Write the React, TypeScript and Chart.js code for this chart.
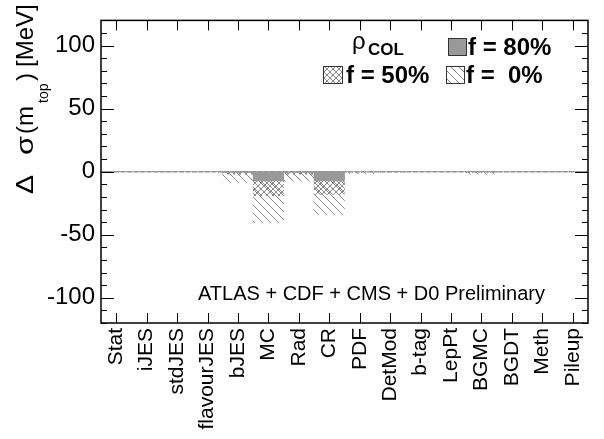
import { useEffect, useRef } from 'react';
import { Chart, registerables } from 'chart.js';

Chart.register(...registerables);

const categories = ['Stat', 'iJES', 'stdJES', 'flavourJES', 'bJES', 'MC', 'Rad', 'CR', 'PDF', 'DetMod', 'b-tag', 'LepPt', 'BGMC', 'BGDT', 'Meth', 'Pileup'];
const f80 = [0, 0, 0, 0, -0.5, -7.3, -0.5, -7.3, 0, 0, 0, 0, 0, 0, 0, 0];
const f50 = [0, 0, 0, 0, -2, -19, -2, -18, -0.3, 0, 0, 0, -0.5, 0, 0, 0];
const f0 = [0, 0, 0, 0, -8.5, -40.5, -7.5, -34, -1.5, -0.5, 0, 0, -2, 0, 0, 0];
const yMin = -120;
const yMax = 120;
const yStep = 50;
const yMinorStep = 10;
const legendHeader = ['ρ', 'COL'];
const legendLabels = ['f = 80%', 'f = 50%', 'f =  0%'];
const titleText = 'ATLAS + CDF + CMS + D0 Preliminary';
// y-axis title pieces: text, offset along the axis from the bottom anchor, subscript flag, target width (0 = natural)
const yTitlePieces: [string, number, boolean, number][] = [
  ['Δ', 1, false, 19],
  ['σ', 40, false, 19],
  ['(', 61, false, 0],
  ['m', 69, false, 0],
  ['top', 92, true, 0],
  [')', 114, false, 0],
  ['[MeV]', 128, false, 0],
];

const FONT = '"Liberation Sans", Arial, Helvetica, sans-serif';
const GRAY = '#999999';
const LINE_GRAY = '#8a8a8a';

function makeHatch(): CanvasPattern | string {
  const c = document.createElement('canvas');
  c.width = 8;
  c.height = 8;
  const g = c.getContext('2d');
  if (!g) return LINE_GRAY;
  g.strokeStyle = LINE_GRAY;
  g.lineWidth = 1;
  for (let i = -1; i <= 1; i++) {
    g.beginPath();
    g.moveTo(i * 8, 0);
    g.lineTo(i * 8 + 8, 8);
    g.stroke();
  }
  return g.createPattern(c, 'repeat') || LINE_GRAY;
}

function makeCross(): CanvasPattern | string {
  const c = document.createElement('canvas');
  c.width = 6;
  c.height = 6;
  const g = c.getContext('2d');
  if (!g) return LINE_GRAY;
  g.strokeStyle = LINE_GRAY;
  g.lineWidth = 1;
  for (let i = -1; i <= 1; i++) {
    g.beginPath();
    g.moveTo(i * 6, 0);
    g.lineTo(i * 6 + 6, 6);
    g.stroke();
    g.beginPath();
    g.moveTo(i * 6 + 6, 0);
    g.lineTo(i * 6, 6);
    g.stroke();
  }
  return g.createPattern(c, 'repeat') || LINE_GRAY;
}

export default function App() {
  const ref = useRef<HTMLCanvasElement | null>(null);

  useEffect(() => {
    if (!ref.current) return;
    const hatch = makeHatch();
    const cross = makeCross();

    const zeroLine = {
      id: 'zeroLine',
      beforeDatasetsDraw(chart: any) {
        const { ctx, chartArea, scales } = chart;
        const y = scales.y.getPixelForValue(0);
        ctx.save();
        ctx.strokeStyle = LINE_GRAY;
        ctx.lineWidth = 1.5;
        ctx.setLineDash([5, 1.5]);
        ctx.beginPath();
        ctx.moveTo(chartArea.left, y);
        ctx.lineTo(chartArea.right, y);
        ctx.stroke();
        ctx.restore();
      },
    };

    const frame = {
      id: 'frame',
      afterDraw(chart: any) {
        const { ctx, chartArea, scales } = chart;
        const { left, right, top, bottom } = chartArea;
        ctx.save();
        ctx.strokeStyle = '#000';
        ctx.lineWidth = 1.5;
        ctx.setLineDash([]);
        ctx.strokeRect(left, top, right - left, bottom - top);
        ctx.lineWidth = 1;
        ctx.beginPath();
        for (let v = yMin; v <= yMax; v += yMinorStep) {
          const y = Math.round(scales.y.getPixelForValue(v)) + 0.5;
          const len = v % yStep === 0 ? 13 : 6;
          ctx.moveTo(left, y);
          ctx.lineTo(left + len, y);
          ctx.moveTo(right, y);
          ctx.lineTo(right - len, y);
        }
        for (let i = 0; i < categories.length; i++) {
          const x = Math.round(scales.x.getPixelForTick(i)) + 0.5;
          ctx.moveTo(x, bottom);
          ctx.lineTo(x, bottom - 10);
          ctx.moveTo(x, top);
          ctx.lineTo(x, top + 10);
        }
        ctx.stroke();

        // title text
        ctx.fillStyle = '#000';
        ctx.textBaseline = 'alphabetic';
        ctx.textAlign = 'left';
        ctx.font = `20px ${FONT}`;
        ctx.fillText(titleText, 198, 300);

        // legend
        ctx.font = `24px ${FONT}`;
        ctx.fillText(legendHeader[0], 352, 49);
        ctx.font = `bold 17px ${FONT}`;
        ctx.fillText(legendHeader[1], 368, 55);

        ctx.lineWidth = 1;
        ctx.strokeStyle = '#333';
        ctx.fillStyle = GRAY;
        ctx.fillRect(448, 38, 18, 17);
        ctx.strokeRect(448.5, 38.5, 18, 17);
        ctx.fillStyle = cross as any;
        ctx.fillRect(323, 66, 19, 17);
        ctx.strokeRect(323.5, 66.5, 19, 17);
        ctx.fillStyle = hatch as any;
        ctx.fillRect(446, 66, 18, 17);
        ctx.strokeRect(446.5, 66.5, 18, 17);

        ctx.fillStyle = '#000';
        ctx.font = `bold 24px ${FONT}`;
        ctx.fillText(legendLabels[0], 468, 55);
        ctx.fillText(legendLabels[1], 346, 83);
        ctx.fillText(legendLabels[2], 466, 83);

        // y title (reads bottom to top)
        ctx.save();
        ctx.translate(33, 195);
        ctx.rotate(-Math.PI / 2);
        for (const [t, off, sub, tw] of yTitlePieces) {
          ctx.font = sub ? `14px ${FONT}` : `24px ${FONT}`;
          const w = ctx.measureText(t).width;
          if (tw > 0 && w > 0) {
            ctx.save();
            ctx.translate(off, sub ? 15 : 0);
            ctx.scale(tw / w, 1);
            ctx.fillText(t, 0, 0);
            ctx.restore();
          } else {
            ctx.fillText(t, off, sub ? 15 : 0);
          }
        }
        ctx.restore();

        ctx.restore();
      },
    };

    const chart = new Chart(ref.current, {
      type: 'bar',
      data: {
        labels: categories,
        datasets: [
          { label: legendLabels[0], data: f80, backgroundColor: GRAY, borderWidth: 0 },
          { label: legendLabels[1], data: f50, backgroundColor: cross as any, borderWidth: 0 },
          { label: legendLabels[2], data: f0, backgroundColor: hatch as any, borderWidth: 0 },
        ],
      },
      options: {
        responsive: false,
        animation: false,
        layout: { padding: { top: 1, right: 16, left: 0, bottom: 0 } },
        datasets: {
          bar: { grouped: false, barPercentage: 1, categoryPercentage: 1 } as any,
        },
        plugins: {
          legend: { display: false },
          tooltip: { enabled: false },
          title: { display: false },
        },
        scales: {
          x: {
            grid: { display: false, drawTicks: false, tickLength: 0 },
            border: { display: false },
            ticks: {
              autoSkip: false,
              maxRotation: 90,
              minRotation: 90,
              padding: 5,
              color: '#000',
              font: { family: FONT, size: 21 },
            },
            afterFit(scale: any) {
              scale.height = 116;
            },
          },
          y: {
            min: yMin,
            max: yMax,
            grid: { display: false, drawTicks: false, tickLength: 0 },
            border: { display: false },
            ticks: {
              stepSize: yStep,
              includeBounds: false,
              padding: 6,
              color: '#000',
              font: { family: FONT, size: 24 },
            },
            afterFit(scale: any) {
              scale.width = 101;
            },
          },
        },
      },
      plugins: [zeroLine, frame],
    });
    return () => chart.destroy();
  }, []);

  return (
    <div style={{ position: 'absolute', left: 0, top: 0, width: 604, height: 439, background: '#fff' }}>
      <canvas ref={ref} width={604} height={439} style={{ display: 'block' }} />
    </div>
  );
}
